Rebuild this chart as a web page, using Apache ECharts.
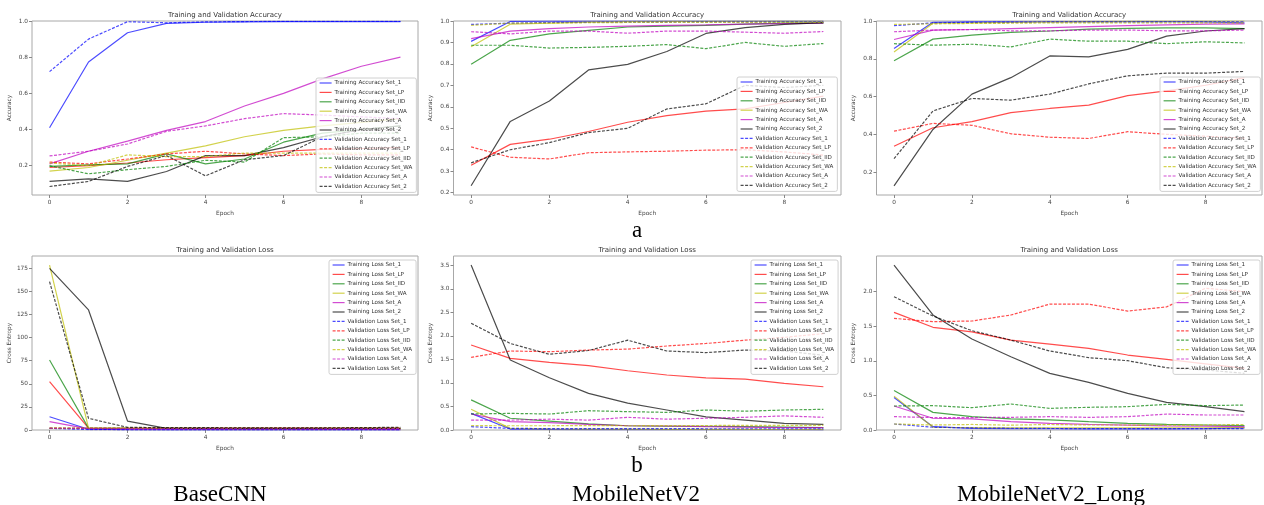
<!DOCTYPE html>
<html><head><meta charset="utf-8">
<script src="https://cdn.jsdelivr.net/npm/echarts@6/dist/echarts.min.js"></script>
<style>html,body{margin:0;padding:0;background:#fff}#c{width:1264px;height:505px}</style>
</head><body><div id="c"></div>
<script>
// ---------- DATA ----------
const epochs = [0, 1, 2, 3, 4, 5, 6, 7, 8, 9];
const setNames = ['Set_1', 'Set_LP', 'Set_IID', 'Set_WA', 'Set_A', 'Set_2'];
const xTicks = [0, 2, 4, 6, 8];

// BaseCNN accuracy (order: Set_1, Set_LP, Set_IID, Set_WA, Set_A, Set_2)
const baseTrainAcc = [
  [0.41, 0.773, 0.935, 0.987, 0.993, 0.995, 0.996, 0.997, 0.997, 0.997],
  [0.19, 0.20, 0.215, 0.233, 0.245, 0.256, 0.28, 0.29, 0.295, 0.30],
  [0.196, 0.205, 0.21, 0.265, 0.21, 0.237, 0.33, 0.38, 0.40, 0.42],
  [0.17, 0.19, 0.23, 0.27, 0.31, 0.36, 0.395, 0.42, 0.44, 0.46],
  [0.21, 0.28, 0.336, 0.395, 0.444, 0.53, 0.60, 0.68, 0.75, 0.80],
  [0.113, 0.127, 0.113, 0.168, 0.256, 0.256, 0.30, 0.36, 0.40, 0.42]
];
const baseValAcc = [
  [0.72, 0.90, 0.996, 0.99, 0.995, 0.997, 0.998, 0.998, 0.998, 0.998],
  [0.22, 0.21, 0.237, 0.265, 0.28, 0.265, 0.256, 0.265, 0.26, 0.26],
  [0.20, 0.155, 0.178, 0.196, 0.23, 0.22, 0.355, 0.36, 0.38, 0.38],
  [0.215, 0.20, 0.26, 0.25, 0.25, 0.27, 0.27, 0.27, 0.27, 0.27],
  [0.254, 0.28, 0.32, 0.39, 0.42, 0.46, 0.488, 0.48, 0.47, 0.46],
  [0.085, 0.113, 0.196, 0.256, 0.144, 0.233, 0.256, 0.36, 0.40, 0.40]
];
// MobileNetV2 accuracy
const mnTrainAcc = [
  [0.905, 0.998, 0.999, 0.999, 1.0, 1.0, 1.0, 1.0, 1.0, 1.0],
  [0.328, 0.425, 0.449, 0.485, 0.528, 0.559, 0.58, 0.59, 0.62, 0.65],
  [0.798, 0.91, 0.94, 0.956, 0.972, 0.976, 0.98, 0.985, 0.99, 0.99],
  [0.88, 0.985, 0.99, 0.995, 0.997, 0.998, 0.998, 0.999, 0.999, 0.999],
  [0.918, 0.953, 0.964, 0.972, 0.976, 0.98, 0.982, 0.985, 0.988, 0.99],
  [0.232, 0.532, 0.627, 0.772, 0.798, 0.858, 0.942, 0.969, 0.984, 0.992]
];
const mnValAcc = [
  [0.984, 0.99, 0.993, 0.994, 0.995, 0.995, 0.996, 0.996, 0.996, 0.996],
  [0.413, 0.365, 0.357, 0.386, 0.39, 0.393, 0.398, 0.40, 0.39, 0.375],
  [0.887, 0.887, 0.874, 0.877, 0.882, 0.89, 0.871, 0.90, 0.882, 0.895],
  [0.98, 0.99, 0.99, 0.992, 0.993, 0.993, 0.994, 0.994, 0.994, 0.994],
  [0.95, 0.94, 0.953, 0.953, 0.943, 0.953, 0.953, 0.948, 0.943, 0.951],
  [0.339, 0.40, 0.433, 0.48, 0.50, 0.59, 0.614, 0.70, 0.69, 0.70]
];
// MobileNetV2_Long accuracy
const mnlTrainAcc = [
  [0.854, 0.993, 0.995, 0.996, 0.996, 0.997, 0.997, 0.997, 0.995, 0.99],
  [0.337, 0.435, 0.467, 0.515, 0.537, 0.555, 0.605, 0.63, 0.66, 0.70],
  [0.79, 0.904, 0.925, 0.94, 0.947, 0.957, 0.961, 0.964, 0.964, 0.96],
  [0.836, 0.988, 0.99, 0.993, 0.995, 0.997, 0.998, 0.999, 0.999, 1.0],
  [0.902, 0.952, 0.955, 0.96, 0.965, 0.97, 0.975, 0.98, 0.983, 0.985],
  [0.127, 0.426, 0.613, 0.70, 0.815, 0.81, 0.85, 0.92, 0.947, 0.96]
];
const mnlValAcc = [
  [0.975, 0.99, 0.993, 0.994, 0.995, 0.995, 0.995, 0.996, 0.996, 0.996],
  [0.417, 0.458, 0.448, 0.403, 0.385, 0.378, 0.414, 0.40, 0.39, 0.38],
  [0.88, 0.872, 0.877, 0.863, 0.904, 0.893, 0.893, 0.88, 0.89, 0.884],
  [0.982, 0.985, 0.987, 0.988, 0.99, 0.99, 0.99, 0.99, 0.99, 0.99],
  [0.943, 0.952, 0.955, 0.948, 0.948, 0.952, 0.952, 0.948, 0.948, 0.952],
  [0.271, 0.524, 0.59, 0.581, 0.613, 0.667, 0.71, 0.724, 0.724, 0.733]
];
// BaseCNN loss
const baseTrainLoss = [
  [14.4, 0.8, 0.3, 0.2, 0.15, 0.1, 0.1, 0.1, 0.08, 0.08],
  [52.3, 2.0, 1.8, 1.7, 1.7, 1.7, 1.7, 1.7, 1.7, 1.7],
  [75.8, 2.0, 1.7, 1.6, 1.5, 1.5, 1.4, 1.3, 1.3, 1.2],
  [178.6, 2.0, 1.8, 1.7, 1.6, 1.5, 1.5, 1.4, 1.4, 1.4],
  [9.0, 1.2, 1.0, 0.9, 0.9, 0.8, 0.8, 0.7, 0.6, 0.5],
  [175, 130, 9.7, 1.8, 1.8, 1.8, 1.8, 1.8, 1.8, 1.8]
];
const baseValLoss = [
  [1.8, 0.5, 0.1, 0.05, 0.05, 0.05, 0.05, 0.05, 0.05, 0.05],
  [2.0, 1.8, 1.8, 1.9, 1.9, 2.0, 2.0, 2.1, 2.1, 2.2],
  [1.8, 1.9, 1.7, 1.8, 1.9, 1.8, 1.6, 1.7, 1.7, 1.6],
  [2.0, 2.0, 1.8, 1.8, 1.9, 1.9, 1.9, 1.9, 2.0, 2.0],
  [1.8, 1.7, 1.6, 1.5, 1.5, 1.4, 1.4, 1.5, 1.5, 1.6],
  [160.6, 12.6, 2.9, 2.5, 2.5, 2.4, 2.4, 2.4, 2.5, 3.0]
];
// MobileNetV2 loss
const mnTrainLoss = [
  [0.354, 0.02, 0.012, 0.01, 0.008, 0.007, 0.006, 0.005, 0.005, 0.004],
  [1.807, 1.524, 1.44, 1.37, 1.26, 1.17, 1.11, 1.08, 0.99, 0.92],
  [0.64, 0.25, 0.19, 0.13, 0.09, 0.08, 0.08, 0.07, 0.06, 0.05],
  [0.44, 0.035, 0.025, 0.02, 0.018, 0.015, 0.013, 0.012, 0.011, 0.01],
  [0.34, 0.177, 0.155, 0.12, 0.09, 0.085, 0.07, 0.06, 0.05, 0.05],
  [3.51, 1.49, 1.11, 0.78, 0.57, 0.425, 0.28, 0.21, 0.14, 0.12]
];
const mnValLoss = [
  [0.07, 0.035, 0.03, 0.03, 0.028, 0.028, 0.027, 0.027, 0.027, 0.027],
  [1.545, 1.68, 1.665, 1.70, 1.72, 1.786, 1.84, 1.91, 1.97, 2.05],
  [0.34, 0.354, 0.34, 0.41, 0.39, 0.375, 0.425, 0.40, 0.425, 0.44],
  [0.092, 0.09, 0.09, 0.095, 0.09, 0.095, 0.095, 0.1, 0.1, 0.1],
  [0.21, 0.21, 0.23, 0.21, 0.27, 0.23, 0.25, 0.27, 0.30, 0.27],
  [2.27, 1.84, 1.61, 1.69, 1.91, 1.68, 1.645, 1.70, 1.68, 1.59]
];
// MobileNetV2_Long loss
const mnlTrainLoss = [
  [0.47, 0.048, 0.024, 0.02, 0.018, 0.017, 0.016, 0.017, 0.02, 0.03],
  [1.70, 1.485, 1.42, 1.30, 1.243, 1.18, 1.084, 1.02, 0.955, 0.89],
  [0.57, 0.255, 0.193, 0.16, 0.145, 0.12, 0.096, 0.082, 0.072, 0.063],
  [0.49, 0.04, 0.035, 0.03, 0.03, 0.03, 0.03, 0.03, 0.03, 0.035],
  [0.347, 0.17, 0.16, 0.12, 0.096, 0.08, 0.07, 0.06, 0.055, 0.05],
  [2.385, 1.663, 1.316, 1.06, 0.819, 0.689, 0.53, 0.40, 0.337, 0.265]
];
const mnlValLoss = [
  [0.087, 0.04, 0.03, 0.025, 0.022, 0.02, 0.02, 0.02, 0.02, 0.02],
  [1.614, 1.566, 1.576, 1.663, 1.82, 1.82, 1.72, 1.78, 2.05, 2.0],
  [0.347, 0.352, 0.323, 0.376, 0.313, 0.328, 0.337, 0.371, 0.352, 0.361],
  [0.087, 0.072, 0.08, 0.07, 0.08, 0.072, 0.072, 0.07, 0.072, 0.08],
  [0.193, 0.18, 0.18, 0.183, 0.193, 0.183, 0.193, 0.23, 0.217, 0.217],
  [1.928, 1.648, 1.436, 1.30, 1.142, 1.046, 1.002, 0.90, 0.867, 0.82]
];
// Tick labels
const accTicksA = [0.2, 0.4, 0.6, 0.8, 1.0];
const accTicksB = [0.2, 0.3, 0.4, 0.5, 0.6, 0.7, 0.8, 0.9, 1.0];
const baseLossTicks = [0, 25, 50, 75, 100, 125, 150, 175];
const mnLossTicks = [0, 0.5, 1.0, 1.5, 2.0, 2.5, 3.0, 3.5];
const mnlLossTicks = [0, 0.5, 1.0, 1.5, 2.0];
const modelNames = ['BaseCNN', 'MobileNetV2', 'MobileNetV2_Long'];
const rowLetters = ['a', 'b'];

// ---------- STYLE / LAYOUT ----------
const setColors = ['#0000ff', '#ff0000', '#008000', '#bfbf00', '#bf00bf', '#000000'];
const FONT = 'DejaVu Sans';
const panels = [
  {grid:{left:32, top:21, width:386, height:174}, train:baseTrainAcc, val:baseValAcc, kind:'Accuracy', yMin:0.038, yMax:1.0, ticks:accTicksA, dec:1, legend:{left:316, top:78}},
  {grid:{left:453.5, top:21, width:387.5, height:174}, train:mnTrainAcc, val:mnValAcc, kind:'Accuracy', yMin:0.189, yMax:1.0, ticks:accTicksB, dec:1, legend:{left:737, top:77}},
  {grid:{left:876.5, top:21, width:385.5, height:174}, train:mnlTrainAcc, val:mnlValAcc, kind:'Accuracy', yMin:0.079, yMax:1.0, ticks:accTicksA, dec:1, legend:{left:1160, top:77}},
  {grid:{left:32, top:256, width:386, height:174}, train:baseTrainLoss, val:baseValLoss, kind:'Loss', yMin:0, yMax:188.4, ticks:baseLossTicks, dec:0, legend:{left:329, top:260}},
  {grid:{left:453.5, top:256, width:387.5, height:174}, train:mnTrainLoss, val:mnValLoss, kind:'Loss', yMin:0, yMax:3.70, ticks:mnLossTicks, dec:1, legend:{left:751, top:260}},
  {grid:{left:876.5, top:256, width:385.5, height:174}, train:mnlTrainLoss, val:mnlValLoss, kind:'Loss', yMin:0, yMax:2.516, ticks:mnlLossTicks, dec:1, legend:{left:1173, top:260}}
];

const option = {animation:false, backgroundColor:'#fff', grid:[], xAxis:[], yAxis:[], series:[], legend:[], title:[], graphic:[]};
const tickTxt = {fontFamily:FONT, fontSize:5.8, color:'#444'};

panels.forEach((p, i) => {
  option.grid.push(Object.assign({show:true, borderColor:'#a8a8a8', borderWidth:1, backgroundColor:'transparent', containLabel:false}, p.grid));
  option.xAxis.push({
    type:'value', gridIndex:i, min:-0.45, max:9.45, position:'bottom',
    name:'Epoch', nameLocation:'middle', nameGap:15, nameTextStyle:tickTxt,
    axisLine:{show:false, onZero:false}, splitLine:{show:false},
    axisTick:{show:true, length:3, lineStyle:{color:'#888'}, customValues:xTicks},
    axisLabel:Object.assign({margin:4, customValues:xTicks, formatter:v=>String(v)}, tickTxt)
  });
  option.yAxis.push({
    type:'value', gridIndex:i, min:p.yMin, max:p.yMax, position:'left',
    name:p.kind === 'Accuracy' ? 'Accuracy' : 'Cross Entropy', nameLocation:'middle', nameGap:20, nameTextStyle:tickTxt,
    axisLine:{show:false, onZero:false}, splitLine:{show:false},
    axisTick:{show:true, length:3, lineStyle:{color:'#888'}, customValues:p.ticks},
    axisLabel:Object.assign({margin:4, customValues:p.ticks, formatter:v=>v.toFixed(p.dec)}, tickTxt)
  });
  const tTitle = p.kind === 'Accuracy' ? 'Training and Validation Accuracy' : 'Training and Validation Loss';
  option.title.push({text:tTitle, left:p.grid.left + p.grid.width/2, top:p.grid.top - 9, textAlign:'center',
    textStyle:{fontFamily:FONT, fontSize:7, fontWeight:'normal', color:'#333'}, padding:0});
  const names = [];
  const prefix = 'p' + i + '|';
  const trainLbl = 'Training ' + p.kind + ' ';
  const valLbl = 'Validation ' + p.kind + ' ';
  [[p.train, trainLbl, 'solid'], [p.val, valLbl, [3, 1.5]]].forEach(([arr, lbl, dash]) => {
    setNames.forEach((s, k) => {
      const nm = prefix + lbl + s;
      names.push(nm);
      option.series.push({
        type:'line', name:nm, xAxisIndex:i, yAxisIndex:i,
        data:epochs.map((e, j) => [e, arr[k][j]]),
        symbol:'none', showSymbol:false, silent:true, color:setColors[k],
        lineStyle:{color:setColors[k], width:1.2, opacity:0.7, type:dash},
        itemStyle:{color:setColors[k], opacity:0.7}
      });
    });
  });
  option.legend.push({
    data:names, orient:'vertical', left:p.legend.left, top:p.legend.top,
    formatter:n => n.split('|')[1], selectedMode:false,
    itemWidth:12, itemHeight:6, itemGap:3.4, padding:[2, 4, 3, 3],
    itemStyle:{opacity:0, borderWidth:0},
    lineStyle:{width:1.2},
    backgroundColor:'rgba(255,255,255,0.8)', borderColor:'#d0d0d0', borderWidth:1, borderRadius:2,
    textStyle:{fontFamily:FONT, fontSize:5.6, color:'#333', lineHeight:6, padding:[0,0,0,-2]}
  });
});

// Row letters and model names
rowLetters.forEach((l, r) => {
  option.graphic.push({type:'text', x:637, y:r === 0 ? 231 : 466,
    style:{text:l, fontFamily:'Liberation Serif', fontSize:23, fill:'#000', align:'center', verticalAlign:'middle'}});
});
modelNames.forEach((m, c) => {
  option.graphic.push({type:'text', x:[220, 636, 1051][c], y:495,
    style:{text:m, fontFamily:'Liberation Serif', fontSize:23, fill:'#000', align:'center', verticalAlign:'middle'}});
});

const chart = echarts.init(document.getElementById('c'), null, {renderer:'canvas'});
chart.setOption(option);
</script>
</body></html>
